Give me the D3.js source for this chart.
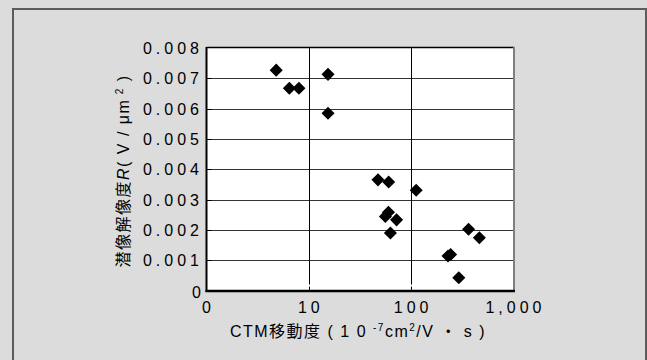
<!DOCTYPE html>
<html>
<head>
<meta charset="utf-8">
<script src="https://cdn.jsdelivr.net/npm/d3@7"></script>
<style>
  body { margin: 0; background: #dcdcdc; }
  text { font-family: "Liberation Sans", Arial, "Noto Sans CJK JP", sans-serif; fill: #000; }
</style>
</head>
<body>
<svg id="chart" width="647" height="360"></svg>
<script>
// values
var mobility   = [4.8, 6.45, 8.0, 15.4, 15.4, 47.4, 60.3, 112, 60, 56, 72, 62.7, 364, 464, 243, 229, 292];
var resolution = [0.00727, 0.00667, 0.00667, 0.00713, 0.00585, 0.00365, 0.00358, 0.00331,
                  0.00258, 0.00244, 0.00233, 0.00190, 0.00202, 0.00174, 0.00119, 0.00114, 0.00042];

var xTicks = [1, 10, 100, 1000];
var xTickLabels = ["0", "10", "100", "1,000"];
var yTicks = [0, 0.001, 0.002, 0.003, 0.004, 0.005, 0.006, 0.007, 0.008];
var yTickLabels = ["0", "0.001", "0.002", "0.003", "0.004", "0.005", "0.006", "0.007", "0.008"];

var plotLeft = 206.5, plotRight = 513.5, plotTop = 48, plotBottom = 290.5;

var svg = d3.select("#chart");

var x = d3.scaleLog().domain([1, 1000]).range([plotLeft, plotRight]);
var y = d3.scaleLinear().domain([0, 0.008]).range([plotBottom, plotTop]);

// outer frame
svg.append("rect")
  .attr("x", 13).attr("y", 9)
  .attr("width", 633).attr("height", 400)
  .attr("fill", "#dcdcdc")
  .attr("stroke", "#5c5c5c")
  .attr("stroke-width", 2);

// plot area
svg.append("rect")
  .attr("x", plotLeft).attr("y", plotTop)
  .attr("width", plotRight - plotLeft).attr("height", plotBottom - plotTop)
  .attr("fill", "#fff");

// horizontal grid
svg.append("g")
  .selectAll("line")
  .data(yTicks.slice(1, -1))
  .enter()
  .append("line")
  .attr("x1", plotLeft).attr("x2", plotRight)
  .attr("y1", function(d) { return Math.round(y(d)) + 0.5; })
  .attr("y2", function(d) { return Math.round(y(d)) + 0.5; })
  .attr("stroke", "#333")
  .attr("stroke-width", 1);

// short black ticks on the left
svg.append("g")
  .selectAll("line")
  .data(yTicks.slice(1, -1))
  .enter()
  .append("line")
  .attr("x1", plotLeft).attr("x2", plotLeft + 5)
  .attr("y1", function(d) { return Math.round(y(d)) + 0.5; })
  .attr("y2", function(d) { return Math.round(y(d)) + 0.5; })
  .attr("stroke", "#000");

// vertical grid, broken just above the axis
svg.append("g")
  .selectAll("line")
  .data(xTicks.slice(1, -1))
  .enter()
  .append("line")
  .attr("x1", function(d) { return Math.round(x(d)) + 0.5; })
  .attr("x2", function(d) { return Math.round(x(d)) + 0.5; })
  .attr("y1", plotTop).attr("y2", plotBottom - 6)
  .attr("stroke", "#000");

svg.append("g")
  .selectAll("line")
  .data(xTicks.slice(1, -1))
  .enter()
  .append("line")
  .attr("x1", function(d) { return Math.round(x(d)) + 0.5; })
  .attr("x2", function(d) { return Math.round(x(d)) + 0.5; })
  .attr("y1", plotBottom - 4).attr("y2", plotBottom)
  .attr("stroke", "#000");

// frame of plot area
svg.append("line")
  .attr("x1", plotLeft).attr("x2", plotRight + 1)
  .attr("y1", plotTop - 0.5).attr("y2", plotTop - 0.5)
  .attr("stroke", "#000").attr("stroke-width", 1.5);
svg.append("line")
  .attr("x1", plotRight + 0.5).attr("x2", plotRight + 0.5)
  .attr("y1", plotTop - 1).attr("y2", plotBottom)
  .attr("stroke", "#808080").attr("stroke-width", 2);

// axes
svg.append("line")
  .attr("x1", plotLeft).attr("x2", plotLeft)
  .attr("y1", plotTop - 1).attr("y2", plotBottom + 1.5)
  .attr("stroke", "#000").attr("stroke-width", 2);
svg.append("line")
  .attr("x1", plotLeft - 1).attr("x2", plotRight + 1.5)
  .attr("y1", plotBottom + 0.5).attr("y2", plotBottom + 0.5)
  .attr("stroke", "#000").attr("stroke-width", 2.5);

// points
var diamond = d3.symbol().type(d3.symbolSquare).size(85);
svg.append("g")
  .selectAll("path")
  .data(mobility)
  .enter()
  .append("path")
  .attr("d", diamond)
  .attr("transform", function(d, i) {
    return "translate(" + x(d) + "," + y(resolution[i]) + ") rotate(45)";
  })
  .attr("fill", "#000");

// y tick labels
svg.append("g")
  .selectAll("text")
  .data(yTicks)
  .enter()
  .append("text")
  .attr("x", function(d, i) { return i === 0 ? 205 : 203; })
  .attr("y", function(d, i) { return i === 0 ? 298 : y(d) + 6; })
  .attr("text-anchor", "end")
  .style("font-size", "16px")
  .style("letter-spacing", "4px")
  .text(function(d, i) { return yTickLabels[i]; });

// x tick labels
svg.append("g")
  .selectAll("text")
  .data(xTicks)
  .enter()
  .append("text")
  .attr("x", function(d) { return x(d) + 2; })
  .attr("y", 313)
  .attr("text-anchor", "middle")
  .style("font-size", "16px")
  .style("letter-spacing", "4px")
  .text(function(d, i) { return xTickLabels[i]; });

// x title
var xt = svg.append("text")
  .attr("x", 358).attr("y", 337)
  .attr("text-anchor", "middle")
  .style("font-size", "16px")
  .style("letter-spacing", "1.5px");
xt.append("tspan").text("CTM移動度 ( 1 0 ");
xt.append("tspan").attr("dy", -6).style("font-size", "10px").text("-7");
xt.append("tspan").attr("dy", 6).text("cm");
xt.append("tspan").attr("dy", -6).style("font-size", "10px").text("2");
xt.append("tspan").attr("dy", 6).text("/V ・ s )");

// y title
var yt = svg.append("text")
  .attr("transform", "translate(129,171) rotate(-90)")
  .attr("text-anchor", "middle")
  .style("font-size", "16px")
  .style("letter-spacing", "1.5px");
yt.append("tspan").text("潜像解像度");
yt.append("tspan").style("font-style", "italic").text("R");
yt.append("tspan").text("( V / μm");
yt.append("tspan").attr("dy", -6).style("font-size", "10px").text(" 2");
yt.append("tspan").attr("dy", 6).text(" )");
</script>
</body>
</html>
